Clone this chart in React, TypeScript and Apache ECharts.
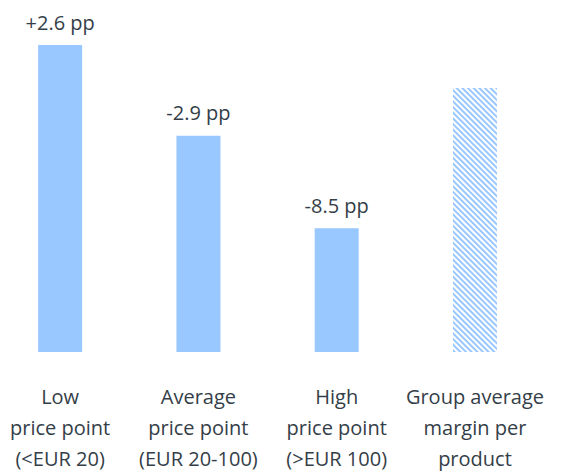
import React, { useEffect, useRef } from "react";
import * as echarts from "echarts";

const categories = [
  "Low\nprice point\n(<EUR 20)",
  "Average\nprice point\n(EUR 20-100)",
  "High\nprice point\n(>EUR 100)",
  "Group average\nmargin per\nproduct",
];
const marginValues = [18.6, 13.1, 7.5, 16.0];
const deltaLabels = ["+2.6 pp", "-2.9 pp", "-8.5 pp", ""];

const BLUE = "#99c7ff";
const TEXT = "#343e48";
const FONT = "Open Sans";

export default function App() {
  const ref = useRef<HTMLDivElement>(null);
  useEffect(() => {
    if (!ref.current) return;
    const chart = echarts.init(ref.current, null, { renderer: "svg" });
    const data = marginValues.map((v, i) => {
      if (i === 3) {
        return {
          value: v,
          itemStyle: {
            color: "#ffffff",
            decal: {
              symbol: "rect",
              symbolSize: 1,
              color: BLUE,
              backgroundColor: "#ffffff",
              dashArrayX: [1, 0],
              dashArrayY: [1.1, 2],
              rotation: Math.PI / 4,
            },
          },
        };
      }
      return { value: v };
    });
    chart.setOption({
      animation: false,
      aria: { enabled: false, decal: { show: false } },
      grid: {
        left: 0,
        right: 17.9,
        top: 22,
        bottom: 120,
        outerBoundsMode: "none",
        containLabel: false,
      },
      xAxis: {
        type: "category",
        data: categories,
        axisLine: { show: false },
        axisTick: { show: false },
        axisLabel: {
          color: TEXT,
          fontFamily: FONT,
          fontSize: 20,
          lineHeight: 31,
          margin: 29,
          interval: 0,
        },
      },
      yAxis: {
        type: "value",
        min: 0,
        max: 20,
        show: false,
        splitLine: { show: false },
      },
      series: [
        {
          type: "bar",
          data,
          barWidth: 44,
          itemStyle: { color: BLUE },
          label: {
            show: true,
            position: "top",
            distance: 13,
            color: TEXT,
            fontFamily: FONT,
            fontSize: 20,
            lineHeight: 20,
            formatter: (p: any) => deltaLabels[p.dataIndex],
          },
        },
      ],
    });
    return () => chart.dispose();
  }, []);
  return (
    <div
      ref={ref}
      style={{ position: "absolute", left: -9.2, top: 0, width: 571.2, height: 472 }}
    />
  );
}
